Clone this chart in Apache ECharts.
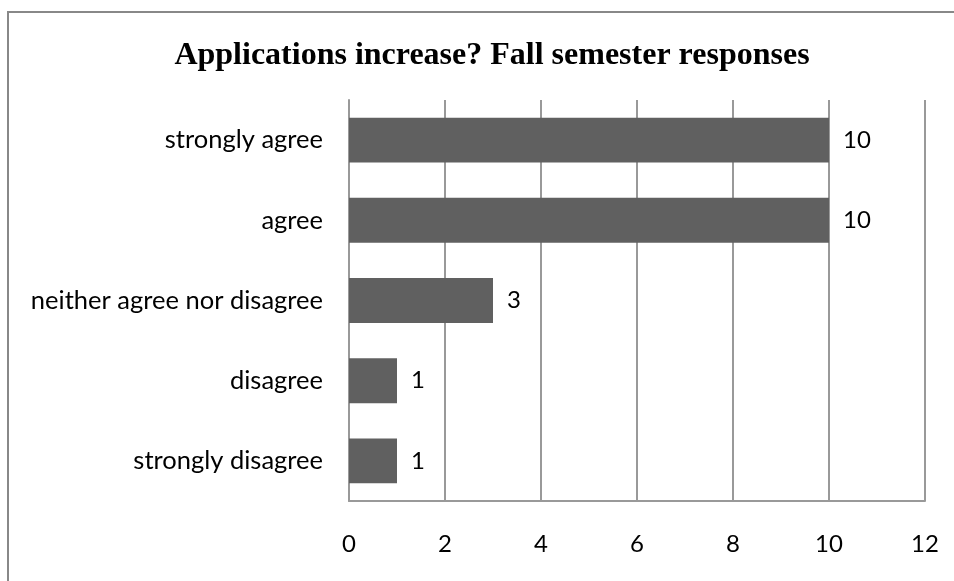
<!DOCTYPE html>
<html>
<head>
<meta charset="utf-8">
<script src="https://cdn.jsdelivr.net/npm/echarts@6/dist/echarts.min.js"></script>
<style>
html,body{margin:0;padding:0;background:#fff;}
#chart{width:954px;height:581px;}
</style>
</head>
<body>
<div id="chart"></div>
<script>
const titleText = "Applications increase? Fall semester responses";
const categories = ["strongly disagree", "disagree", "neither agree nor disagree", "agree", "strongly agree"];
const values = [1, 1, 3, 10, 10];
const xTicks = [0, 2, 4, 6, 8, 10, 12];

const chart = echarts.init(document.getElementById('chart'), null, {renderer: 'canvas'});
const labelFont = "Lato, 'Open Sans', sans-serif";
chart.setOption({
  animation: false,
  backgroundColor: '#ffffff',
  graphic: [{
    type: 'rect',
    shape: {x: 8, y: 12, width: 1000, height: 700},
    style: {fill: 'none', stroke: '#888888', lineWidth: 2},
    silent: true
  }],
  title: {
    text: titleText,
    left: 487,
    textAlign: 'center',
    top: 35,
    textStyle: {fontFamily: "'Liberation Serif', 'Times New Roman', serif", fontWeight: 'bold', fontSize: 32, color: '#000'}
  },
  grid: {left: 349, right: 29, top: 100, bottom: 80, containLabel: false},
  xAxis: {
    type: 'value',
    min: xTicks[0],
    max: xTicks[xTicks.length - 1],
    interval: 2,
    axisLine: {show: true, lineStyle: {color: '#999999', width: 2}},
    axisTick: {show: false},
    splitLine: {show: true, lineStyle: {color: '#999999', width: 2}},
    axisLabel: {color: '#000', fontSize: 24, fontFamily: labelFont, margin: 31}
  },
  yAxis: {
    type: 'category',
    data: categories,
    axisLine: {show: true, lineStyle: {color: '#999999', width: 2}},
    axisTick: {show: false},
    axisLabel: {color: '#000', fontSize: 25.5, fontFamily: labelFont, margin: 26}
  },
  series: [{
    type: 'bar',
    data: values,
    barCategoryGap: '44%',
    itemStyle: {color: '#606060'},
    label: {show: true, position: 'right', distance: 14, color: '#000', fontSize: 24, fontFamily: labelFont}
  }]
});
</script>
</body>
</html>
